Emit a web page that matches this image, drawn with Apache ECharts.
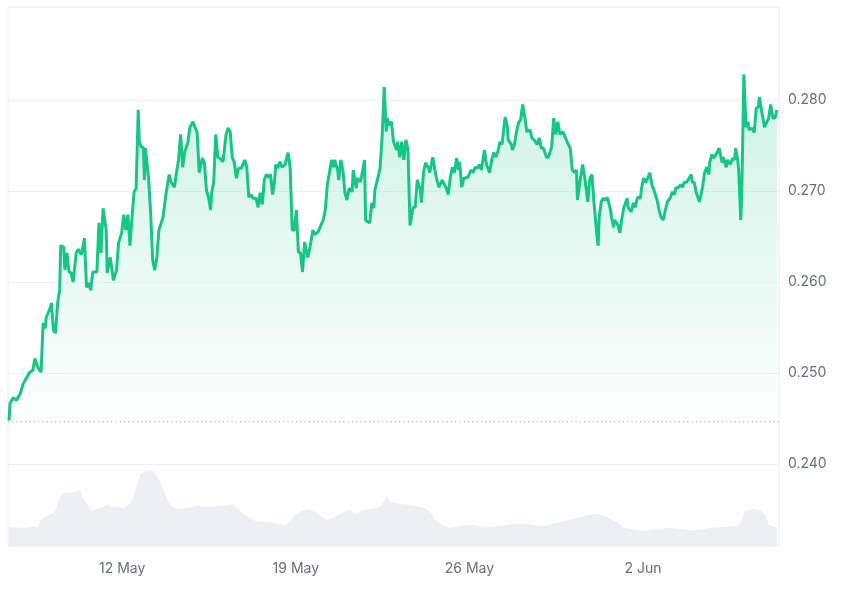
<!DOCTYPE html>
<html><head><meta charset="utf-8">
<script src="https://cdn.jsdelivr.net/npm/echarts@6/dist/echarts.min.js"></script>
<style>html,body{margin:0;padding:0;background:#fff}#c{width:846px;height:590px}</style>
</head><body><div id="c"></div>
<script>
// Series start time (local); points are [hours since start, value]
const seriesStart = new Date(2025, 4, 7, 10, 30).getTime();
const xMinHours = -1;
const xMaxHours = 745;

const xTickDates = ['2025-05-12', '2025-05-19', '2025-05-26', '2025-06-02'];
const xTickLabels = ['12 May', '19 May', '26 May', '2 Jun'];
const yTicks = [0.240, 0.250, 0.260, 0.270, 0.280];
const yMin = 0.23102, yMax = 0.29019;
const baselinePrice = 0.24465;

const priceWeek1 = [
[0,0.2448],[1,0.2467],[4,0.2473],[7,0.2470],[11,0.2478],[14,0.2489],[17,0.2495],[20,0.2501],[23,0.2503],[25,0.2516],
[28,0.2506],[31,0.2501],[33,0.2555],[35,0.2549],[36,0.2561],[40,0.2572],[41,0.2577],[43,0.2547],[45,0.2544],[47,0.2577],
[49,0.2591],[50,0.2640],[53,0.2638],[54,0.2613],[56,0.2632],[58,0.2611],[60,0.2610],[62,0.2600],[65,0.2632],[67,0.2636],
[70,0.2630],[73,0.2648],[75,0.2594],[77,0.2599],[79,0.2591],[81,0.2611],[85,0.2611],[87,0.2665],[89,0.2632],[91,0.2681],
[94,0.2657],[95,0.2610],[98,0.2627],[101,0.2602],[104,0.2613],[106,0.2643],[109,0.2654],[111,0.2674],[113,0.2657],[115,0.2674],
[117,0.2640],[119,0.2671],[121,0.2699],[123,0.2703],[125,0.2789],[126,0.2754],[128,0.2748],[130,0.2748],[131,0.2712],[132,0.2747],
[135,0.2714],[137,0.2676],[139,0.2624],[141,0.2613],[143,0.2627],[145,0.2657],[149,0.2671],[152,0.2698],[155,0.2718],[157,0.2709],
[160,0.2704],[162,0.2720],[164,0.2734],[166,0.2762],[168,0.2726],[170,0.2743],[173,0.2753],[175,0.2770],[178,0.2776],[180,0.2770],
[182,0.2764],[184,0.2720]
];
const priceWeek2 = [
[187,0.2736],[189,0.2731],[191,0.2701],[193,0.2693],[195,0.2679],[196,0.2698],[198,0.2709],[200,0.2762],[202,0.2737],[204,0.2736],
[207,0.2732],[210,0.2762],[212,0.2769],[214,0.2765],[216,0.2737],[218,0.2731],[220,0.2714],[222,0.2725],[225,0.2725],[228,0.2734],
[230,0.2726],[232,0.2693],[234,0.2696],[236,0.2692],[239,0.2692],[241,0.2682],[243,0.2698],[245,0.2685],[247,0.2712],[249,0.2718],
[251,0.2715],[253,0.2718],[255,0.2696],[257,0.2712],[258,0.2729],[260,0.2725],[262,0.2732],[264,0.2726],[267,0.2729],[270,0.2742],
[272,0.2726],[274,0.2657],[276,0.2657],[278,0.2679],[280,0.2633],[282,0.2632],[284,0.2611],[286,0.2644],[289,0.2627],[291,0.2637],
[294,0.2657],[296,0.2652],[299,0.2655],[302,0.2663],[304,0.2668],[306,0.2679],[308,0.2707],[310,0.2720],[312,0.2734],[314,0.2726],
[315,0.2734],[318,0.2723],[319,0.2712],[321,0.2734],[323,0.2723],[325,0.2698],[327,0.2690],[329,0.2703],[332,0.2699],[333,0.2723],
[336,0.2703],[337,0.2714],[340,0.2710],[341,0.2715],[344,0.2734],[345,0.2668],[347,0.2666],[349,0.2665],[351,0.2687],[353,0.2681],
[354,0.2701],[357,0.2715],[359,0.2725],[361,0.2759],[363,0.2814],[365,0.2765],[366,0.2780],[368,0.2772],[370,0.2776]
];
const priceWeek3 = [
[372,0.2754],[375,0.2745],[376,0.2754],[378,0.2737],[380,0.2754],[382,0.2734],[384,0.2756],[386,0.2745],[388,0.2662],[391,0.2682],
[393,0.2682],[395,0.2712],[398,0.2701],[399,0.2687],[401,0.2720],[403,0.2731],[406,0.2725],[407,0.2720],[410,0.2737],[412,0.2723],
[414,0.2712],[416,0.2704],[419,0.2712],[420,0.2710],[423,0.2703],[425,0.2696],[427,0.2715],[429,0.2726],[431,0.2720],[433,0.2736],
[435,0.2723],[436,0.2732],[438,0.2704],[440,0.2714],[444,0.2715],[447,0.2723],[449,0.2720],[451,0.2726],[453,0.2725],[455,0.2729],
[457,0.2723],[460,0.2745],[462,0.2729],[465,0.2720],[467,0.2734],[469,0.2742],[471,0.2737],[473,0.2743],[475,0.2754],[477,0.2751],
[480,0.2781],[482,0.2772],[483,0.2756],[486,0.2751],[487,0.2745],[489,0.2751],[491,0.2765],[493,0.2775],[495,0.2778],[497,0.2795],
[499,0.2781],[501,0.2765],[504,0.2767],[506,0.2758],[508,0.2756],[511,0.2751],[513,0.2758],[515,0.2747],[517,0.2747],[520,0.2737],
[522,0.2737],[524,0.2745],[525,0.2748],[527,0.2780],[529,0.2762],[531,0.2776],[533,0.2762],[536,0.2765],[538,0.2759],[540,0.2754],
[543,0.2747],[545,0.2723],[547,0.2720],[549,0.2723],[550,0.2690],[553,0.2715],[555,0.2729],[557,0.2715],[560,0.2688],[562,0.2714],
[564,0.2718],[566,0.2687]
];
const priceWeek4 = [
[569,0.2649],[570,0.2640],[571,0.2671],[573,0.2688],[575,0.2692],[577,0.2690],[579,0.2693],[582,0.2679],[583,0.2671],[585,0.2660],
[586,0.2668],[589,0.2663],[591,0.2654],[593,0.2670],[595,0.2682],[598,0.2692],[599,0.2682],[602,0.2677],[604,0.2687],[606,0.2682],
[608,0.2693],[611,0.2692],[612,0.2703],[614,0.2714],[616,0.2709],[620,0.2720],[622,0.2707],[624,0.2701],[627,0.2690],[629,0.2679],
[631,0.2671],[633,0.2668],[635,0.2679],[637,0.2688],[640,0.2693],[642,0.2699],[644,0.2696],[645,0.2703],[648,0.2704],[650,0.2707],
[652,0.2704],[653,0.2709],[656,0.2710],[658,0.2714],[660,0.2718],[661,0.2710],[663,0.2709],[665,0.2698],[668,0.2688],[669,0.2687],
[671,0.2704],[673,0.2720],[675,0.2726],[677,0.2718],[678,0.2731],[680,0.2740],[682,0.2736],[685,0.2742],[687,0.2747],[690,0.2731],
[691,0.2737],[694,0.2726],[695,0.2734],[698,0.2729],[700,0.2736],[702,0.2734],[703,0.2747],[705,0.2734],[706,0.2723],[708,0.2668],
[709,0.2698],[711,0.2828],[712,0.2800],[713,0.2770],[715,0.2776],[716,0.2767],[719,0.2769],[721,0.2764],[723,0.2791],[725,0.2792],
[726,0.2803],[728,0.2789],[731,0.2770],[733,0.2775],[735,0.2780],[737,0.2795],[739,0.2780],[741,0.2780],[743,0.2789]
];

// Volume (millions, arbitrary units) as [hours since start, volume]
const volumePoints = [
[0,38],[15,36],[23,38],[28,38],[31,52],[35,58],[43,66],[46,76],[49,98],[53,108],
[57,106],[64,108],[69,112],[71,98],[76,82],[80,70],[85,74],[90,78],[95,82],[99,78],
[106,78],[112,76],[119,88],[124,122],[127,142],[132,150],[138,152],[142,144],[145,134],[149,114],
[153,94],[156,82],[162,74],[172,76],[182,80],[191,78],[201,80],[211,82],[216,84],[220,78],
[225,66],[232,58],[238,50],[246,48],[253,48],[259,44],[267,42],[272,48],[277,62],[283,70],
[290,74],[296,68],[303,58],[309,52],[315,58],[324,68],[330,72],[336,64],[343,72],[349,74],
[359,78],[365,98],[369,88],[378,84],[388,82],[398,78],[404,74],[409,64],[412,52],[419,42],
[427,36],[436,40],[449,42],[462,38],[475,40],[488,44],[501,44],[514,40],[523,42],[533,48],
[546,54],[559,62],[570,64],[578,58],[588,48],[594,38],[604,32],[614,30],[627,34],[640,36],
[649,34],[659,32],[668,32],[678,36],[691,38],[704,40],[709,52],[712,70],[719,74],[727,72],
[732,62],[735,42],[743,36]
];
const volumeAxisMax = 1078;

const H = 3600 * 1000;
const toTime = h => seriesStart + h * H;
const priceData = [].concat(priceWeek1, priceWeek2, priceWeek3, priceWeek4).map(p => [toTime(p[0]), p[1]]);
const volumeData = volumePoints.map(p => [toTime(p[0]), p[1]]);
const baselineData = [[toTime(xMinHours), baselinePrice], [toTime(xMaxHours), baselinePrice]];
const xTickTimes = xTickDates.map(s => { const [y, m, d] = s.split('-').map(Number); return new Date(y, m - 1, d).getTime(); });

const textColor = '#646f82';
const fontFamily = 'Inter, "Liberation Sans", Arial, sans-serif';

const chart = echarts.init(document.getElementById('c'), null, { renderer: 'canvas' });
chart.setOption({
  animation: false,
  backgroundColor: '#ffffff',
  grid: { left: 8, right: 67, top: 7, bottom: 44, show: true, borderColor: '#e8ebef', borderWidth: 1, backgroundColor: 'transparent' },
  xAxis: {
    type: 'value',
    min: toTime(xMinHours),
    max: toTime(xMaxHours),
    axisLine: { show: false },
    axisTick: { show: false, customValues: xTickTimes },
    splitLine: { show: false },
    axisLabel: {
      customValues: xTickTimes,
      color: textColor, fontSize: 14, fontFamily: fontFamily, margin: 16,
      formatter: function (v) {
        let best = 0, bd = Infinity;
        xTickTimes.forEach((t, i) => { const d = Math.abs(t - v); if (d < bd) { bd = d; best = i; } });
        return xTickLabels[best];
      }
    }
  },
  yAxis: [{
    type: 'value',
    position: 'right',
    min: yMin, max: yMax,
    axisLine: { show: false },
    axisTick: { show: false, customValues: yTicks },
    splitLine: { show: true, lineStyle: { color: '#eff2f5', width: 1 } },
    axisLabel: {
      customValues: yTicks,
      color: textColor, fontSize: 14, fontFamily: fontFamily, margin: 9,
      formatter: v => v.toFixed(3)
    }
  }, {
    type: 'value', min: 0, max: volumeAxisMax, show: false
  }],
  series: [{
    name: 'Volume',
    type: 'line',
    yAxisIndex: 1,
    data: volumeData,
    showSymbol: false,
    silent: true,
    lineStyle: { width: 0, color: '#eceff3' },
    areaStyle: { color: '#eceff3', opacity: 1 },
    z: 1
  }, {
    name: 'Baseline',
    type: 'line',
    data: baselineData,
    showSymbol: false,
    silent: true,
    lineStyle: { type: [1, 3.3], color: '#8f98a6', width: 1 },
    z: 2
  }, {
    name: 'Price',
    type: 'line',
    data: priceData,
    showSymbol: false,
    lineStyle: { color: '#16c784', width: 3 },
    itemStyle: { color: '#16c784' },
    areaStyle: {
      origin: baselinePrice,
      color: new echarts.graphic.LinearGradient(0, 0, 0, 1, [
        { offset: 0, color: 'rgba(22,199,132,0.30)' },
        { offset: 1, color: 'rgba(22,199,132,0.01)' }
      ])
    },
    z: 3
  }]
});
</script>
</body></html>
